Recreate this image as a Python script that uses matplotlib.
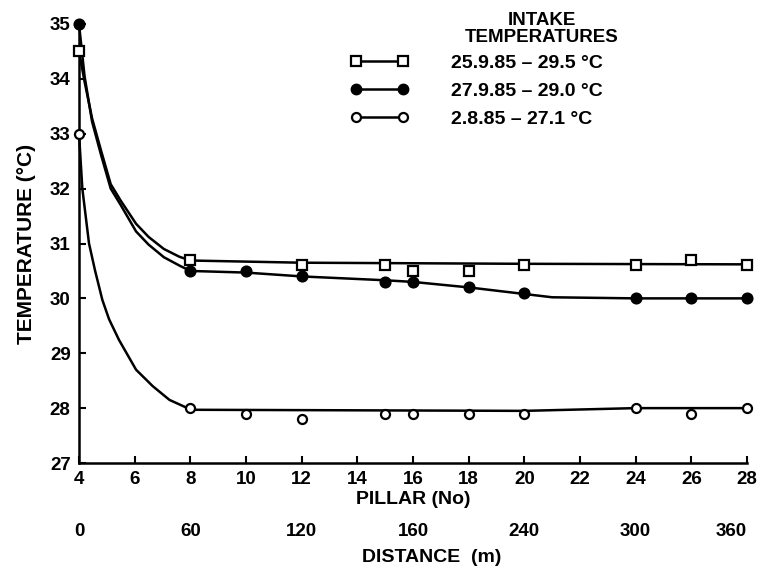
import matplotlib
matplotlib.use("Agg")
import matplotlib.pyplot as plt
from matplotlib.lines import Line2D
from matplotlib.transforms import blended_transform_factory

plt.rcParams['font.family'] = ['Liberation Sans', 'DejaVu Sans']
plt.rcParams['font.weight'] = 'bold'

# ---------------- data ----------------
# measured points (pillar number, temperature °C)
s1_pillar = [4, 8, 12, 15, 16, 18, 20, 24, 26, 28]
s1_temp = [34.5, 30.7, 30.6, 30.6, 30.5, 30.5, 30.6, 30.6, 30.7, 30.6]

s2_pillar = [4, 8, 10, 12, 15, 16, 18, 20, 24, 26, 28]
s2_temp = [35.0, 30.5, 30.5, 30.4, 30.3, 30.3, 30.2, 30.1, 30.0, 30.0, 30.0]

s3_pillar = [4, 8, 10, 12, 15, 16, 18, 20, 24, 26, 28]
s3_temp = [33.0, 28.0, 27.9, 27.8, 27.9, 27.9, 27.9, 27.9, 28.0, 27.9, 28.0]

# hand-drawn fitted curves
c1_pillar = [4.0, 4.2, 4.47, 4.8, 5.14, 5.5, 6.05, 6.5, 7.05, 7.6, 8.0, 12, 20, 28]
c1_temp = [34.5, 33.95, 33.28, 32.68, 32.08, 31.78, 31.36, 31.12, 30.9, 30.76, 30.69,
           30.65, 30.63, 30.62]

c2_pillar = [4.0, 4.2, 4.47, 4.8, 5.14, 5.5, 6.05, 6.5, 7.05, 7.6, 8.0, 10, 12, 15, 16,
             18, 20, 21, 24, 28]
c2_temp = [35.0, 34.05, 33.22, 32.6, 32.0, 31.7, 31.22, 30.98, 30.75, 30.6, 30.5, 30.47,
           30.4, 30.33, 30.3, 30.2, 30.08, 30.02, 30.0, 30.0]

c3_pillar = [4.0, 4.12, 4.36, 4.58, 4.84, 5.08, 5.44, 6.05, 6.65, 7.25, 7.9, 8.0, 20, 24, 28]
c3_temp = [33.0, 32.0, 31.0, 30.5, 29.97, 29.62, 29.24, 28.7, 28.4, 28.15, 28.0, 27.97,
           27.95, 28.0, 28.0]

pillar_ticks = [4, 6, 8, 10, 12, 14, 16, 18, 20, 22, 24, 26, 28]
temp_ticks = [27, 28, 29, 30, 31, 32, 33, 34, 35]

distance_pillars = [4, 8, 12, 16, 20, 24, 28]
distance_labels = ['0', '60', '120', '160', '240', '300', '360']

legend_labels = ['25.9.85 – 29.5 °C', '27.9.85 – 29.0 °C', '2.8.85 – 27.1 °C']

# ---------------- figure ----------------
fig = plt.figure(figsize=(7.58, 5.74), dpi=100)
ax = fig.add_axes([79 / 758, 1 - 463 / 574, (747 - 79) / 758, (463 - 24) / 574])

lw = 1.8
ax.plot(c1_pillar, c1_temp, color='black', lw=lw, clip_on=False)
ax.plot(c2_pillar, c2_temp, color='black', lw=lw, clip_on=False)
ax.plot(c3_pillar, c3_temp, color='black', lw=lw, clip_on=False)

ax.plot(s1_pillar, s1_temp, ls='none', marker='s', ms=7, mfc='white', mec='black', mew=1.6,
        clip_on=False, zorder=3)
ax.plot(s2_pillar, s2_temp, ls='none', marker='o', ms=7.5, mfc='black', mec='black', mew=1.2,
        clip_on=False, zorder=3)
ax.plot(s3_pillar, s3_temp, ls='none', marker='o', ms=6.5, mfc='white', mec='black', mew=1.6,
        clip_on=False, zorder=3)

ax.set_xlim(4, 28)
ax.set_ylim(27, 35)
ax.set_xticks(pillar_ticks)
ax.set_yticks(temp_ticks)
ax.tick_params(direction='in', length=5, width=1.5, labelsize=13.5, pad=6)
for side in ['top', 'right']:
    ax.spines[side].set_visible(False)
for side in ['left', 'bottom']:
    ax.spines[side].set_linewidth(1.8)

ax.set_ylabel('TEMPERATURE (°C)', fontsize=15, fontweight='bold', labelpad=10)
ax.set_xlabel('PILLAR (No)', fontsize=14, fontweight='bold', labelpad=2)

trans = blended_transform_factory(ax.transData, ax.transAxes)
for i, (p, lab) in enumerate(zip(distance_pillars, distance_labels)):
    ha = 'right' if i == len(distance_pillars) - 1 else 'center'
    ax.text(p, -0.157, lab, transform=trans, ha=ha, va='center', fontsize=13.5,
            fontweight='bold', clip_on=False)
fig.text(432 / 758, 1 - 557 / 574, 'DISTANCE  (m)', ha='center', va='center', fontsize=14,
         fontweight='bold')

handles = [
    Line2D([], [], color='black', lw=lw, marker='s', ms=7, mfc='white', mec='black', mew=1.6),
    Line2D([], [], color='black', lw=lw, marker='o', ms=7.5, mfc='black', mec='black'),
    Line2D([], [], color='black', lw=lw, marker='o', ms=6.5, mfc='white', mec='black', mew=1.6),
]
leg = ax.legend(handles, legend_labels, loc='upper left', numpoints=2, frameon=False,
                bbox_to_anchor=(350 / 758, 1 - 54 / 574), bbox_transform=fig.transFigure,
                borderpad=0, borderaxespad=0, handlelength=3.0, handletextpad=2.2,
                labelspacing=0.55, prop={'size': 14, 'weight': 'bold'})
fig.text(542 / 758, 1 - 29 / 574, 'INTAKE\nTEMPERATURES', ha='center', va='center',
         fontsize=13.5, fontweight='bold', linespacing=0.95)

fig.savefig('out.png', dpi=100)
